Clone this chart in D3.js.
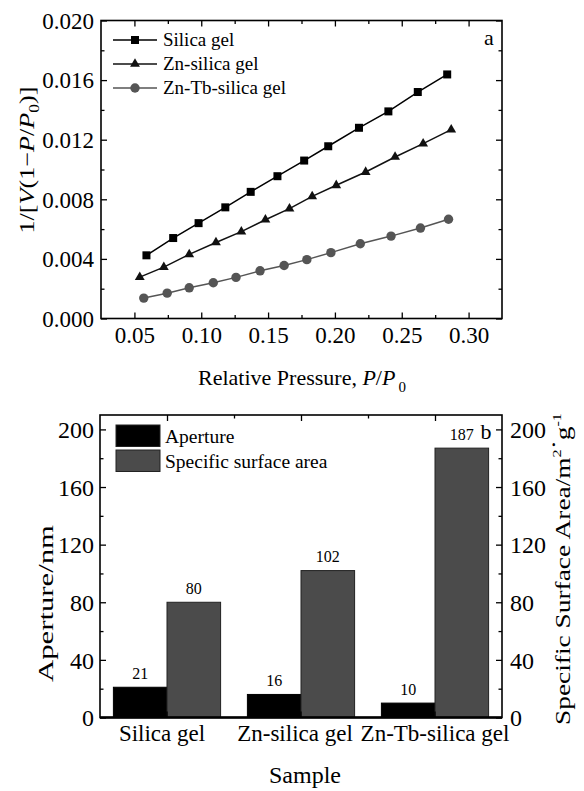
<!DOCTYPE html>
<html>
<head>
<meta charset="utf-8">
<script src="https://cdn.jsdelivr.net/npm/d3@7"></script>
<style>
  body { margin: 0; background: #fff; }
  svg { display: block; font-family: "Liberation Serif", "Times New Roman", serif; }
  .axis .domain { display: none; }
  .axis line { stroke: #000; stroke-width: 1.3; }
</style>
</head>
<body>
<svg id="chart" width="584" height="791"></svg>
<script>
// ---- panel a : BET plot ----
const seriesNames = ["Silica gel", "Zn-silica gel", "Zn-Tb-silica gel"];
const silicaP = [0.059, 0.079, 0.098, 0.118, 0.137, 0.157, 0.177, 0.195, 0.218, 0.240, 0.262, 0.284];
const silicaY = [0.00424, 0.0054, 0.0064, 0.00746, 0.0085, 0.00955, 0.0106, 0.01156, 0.0128, 0.0139, 0.0152, 0.01638];
const znP = [0.054, 0.072, 0.091, 0.111, 0.130, 0.148, 0.166, 0.183, 0.201, 0.223, 0.245, 0.266, 0.287];
const znY = [0.00278, 0.00345, 0.0043, 0.0051, 0.00583, 0.00663, 0.00737, 0.0082, 0.00894, 0.00983, 0.01084, 0.01174, 0.01268];
const znTbP = [0.057, 0.0745, 0.091, 0.109, 0.126, 0.144, 0.162, 0.179, 0.197, 0.219, 0.242, 0.264, 0.285];
const znTbY = [0.00137, 0.0017, 0.00206, 0.0024, 0.00276, 0.0032, 0.00356, 0.00395, 0.00442, 0.00502, 0.00553, 0.00607, 0.00666];
const xTicksA = [0.05, 0.10, 0.15, 0.20, 0.25, 0.30];
const xMinorA = [0.075, 0.125, 0.175, 0.225, 0.275];
const yTicksA = [0, 0.004, 0.008, 0.012, 0.016, 0.020];
const yMinorA = [0.002, 0.006, 0.010, 0.014, 0.018];

// ---- panel b : bars ----
const samples = ["Silica gel", "Zn-silica gel", "Zn-Tb-silica gel"];
const barSeries = ["Aperture", "Specific surface area"];
const aperture = [21, 16, 10];
const surfaceArea = [80, 102, 187];
const yTicksB = [0, 40, 80, 120, 160, 200];
const yMinorB = [20, 60, 100, 140, 180];

const svg = d3.select("#chart");

// small helper: major + minor inward ticks
function ticks(gen, pos, major, minor, fmt, pad, fontSize) {
    const g = svg.append("g").attr("class", "axis").attr("transform", pos);
    g.call(gen.tickValues(major).tickSize(-6).tickSizeOuter(0).tickPadding(pad).tickFormat(fmt));
    g.selectAll("text").attr("font-size", fontSize).attr("font-family", "Liberation Serif").attr("fill", "#000");
    if (minor) {
        const m = svg.append("g").attr("class", "axis").attr("transform", pos);
        m.call(gen.tickValues(minor).tickSize(-3.5).tickFormat(""));
    }
    return g;
}

// rotated titles in the original are drawn stretched along their length
function stretchTitle(t, cx, cy, target) {
    t.attr("transform", `translate(${cx},${cy}) rotate(-90)`);
    const len = t.node().getBoundingClientRect().height;
    t.attr("transform", `translate(${cx},${cy}) rotate(-90) scale(${target / len},1)`);
}

// ================= panel a =================
const a = {left: 101, right: 502, top: 20.5, bottom: 318.5};
const x = d3.scaleLinear().domain([0.025, 0.325]).range([a.left, a.right]);
const y = d3.scaleLinear().domain([0, 0.020]).range([a.bottom, a.top]);

ticks(d3.axisBottom(x), `translate(0,${a.bottom})`, xTicksA, xMinorA, d3.format(".2f"), 8.5, 23);
ticks(d3.axisTop(x), `translate(0,${a.top})`, xTicksA, xMinorA, "", 0, 0);
ticks(d3.axisLeft(y), `translate(${a.left},0)`, yTicksA, yMinorA, d3.format(".3f"), 7, 23)
    .selectAll("text").attr("dy", "0.34em");
ticks(d3.axisRight(y), `translate(${a.right},0)`, yTicksA, yMinorA, "", 0, 0);

svg.append("rect")
    .attr("x", a.left).attr("y", a.top)
    .attr("width", a.right - a.left).attr("height", a.bottom - a.top)
    .attr("fill", "none").attr("stroke", "#000").attr("stroke-width", 1.6);

const series = [
    {name: seriesNames[0], p: silicaP, v: silicaY, color: "#000", marker: "square"},
    {name: seriesNames[1], p: znP, v: znY, color: "#111", marker: "triangle"},
    {name: seriesNames[2], p: znTbP, v: znTbY, color: "#555", marker: "circle"}
];

const line = d3.line().x(d => x(d[0])).y(d => y(d[1]));

function marker(g, type, color) {
    if (type === "square") {
        g.append("rect").attr("x", -4).attr("y", -4).attr("width", 8).attr("height", 8).attr("fill", color);
    } else if (type === "triangle") {
        g.append("path").attr("d", d3.symbol().type(d3.symbolTriangle).size(42)()).attr("fill", color);
    } else {
        g.append("circle").attr("r", 4.7).attr("fill", color);
    }
}

series.forEach(s => {
    const pts = s.p.map((p, i) => [p, s.v[i]]);
    svg.append("path")
        .datum(pts)
        .attr("fill", "none")
        .attr("stroke", s.color)
        .attr("stroke-width", 1.5)
        .attr("d", line);
    svg.append("g").selectAll("g")
        .data(pts)
        .enter()
        .append("g")
        .attr("transform", d => `translate(${x(d[0])},${y(d[1])})`)
        .each(function() { marker(d3.select(this), s.marker, s.color); });
});

// legend a
series.forEach((s, i) => {
    const ly = 40 + i * 24;
    svg.append("line").attr("x1", 113).attr("x2", 157).attr("y1", ly).attr("y2", ly)
        .attr("stroke", s.color).attr("stroke-width", 1.5);
    marker(svg.append("g").attr("transform", `translate(135,${ly})`), s.marker, s.color);
    svg.append("text").attr("x", 163).attr("y", ly + 5.5).attr("font-size", 19).text(s.name);
});

svg.append("text").attr("x", 489).attr("y", 45).attr("font-size", 22).attr("text-anchor", "middle").text("a");

// axis titles a
const xt = svg.append("text").attr("x", 302).attr("y", 385).attr("font-size", 22).attr("text-anchor", "middle");
xt.append("tspan").text("Relative Pressure, ");
xt.append("tspan").attr("font-style", "italic").text("P");
xt.append("tspan").text("/");
xt.append("tspan").attr("font-style", "italic").text("P");
xt.append("tspan").attr("font-size", 15).attr("dx", 3).attr("dy", 7).text("0");

const yt = svg.append("text").attr("font-size", 21).attr("text-anchor", "middle");
yt.append("tspan").text("1/[");
yt.append("tspan").attr("font-style", "italic").text("V");
yt.append("tspan").text("(1\u2212");
yt.append("tspan").attr("font-style", "italic").text("P");
yt.append("tspan").text("/");
yt.append("tspan").attr("font-style", "italic").text("P");
yt.append("tspan").attr("font-size", 14).attr("dy", 5).text("0");
yt.append("tspan").attr("dy", -5).text(")]");
stretchTitle(yt, 34, 160, 147);

// ================= panel b =================
const b = {left: 100, right: 502, top: 415, bottom: 717.5};
const x0 = d3.scaleBand().domain(samples).range([b.left, b.right]).paddingInner(0.2).paddingOuter(0.1);
const x1 = d3.scaleBand().domain(barSeries).range([0, x0.bandwidth()]);
const xi = d3.scaleLinear().domain([-0.5, 2.5]).range([b.left, b.right]);
const yb = d3.scaleLinear().domain([0, 210]).range([b.bottom, b.top]);
const yb2 = d3.scaleLinear().domain([0, 210]).range([b.bottom, b.top]);

const barColor = {"Aperture": "#000", "Specific surface area": "#4b4b4b"};
const barData = samples.map((s, i) => ({sample: s, values: [
    {key: barSeries[0], v: aperture[i], scale: yb},
    {key: barSeries[1], v: surfaceArea[i], scale: yb2}
]}));

const groups = svg.append("g").selectAll("g")
    .data(barData)
    .enter()
    .append("g")
    .attr("transform", d => `translate(${x0(d.sample)},0)`);

groups.selectAll("rect")
    .data(d => d.values)
    .enter()
    .append("rect")
    .attr("x", d => x1(d.key))
    .attr("y", d => d.scale(d.v))
    .attr("width", x1.bandwidth())
    .attr("height", d => b.bottom - d.scale(d.v))
    .attr("fill", d => barColor[d.key])
    .attr("stroke", d => d.key === "Aperture" ? "#000" : "#222")
    .attr("stroke-width", 1);

groups.selectAll("text")
    .data(d => d.values)
    .enter()
    .append("text")
    .attr("x", d => x1(d.key) + x1.bandwidth() / 2)
    .attr("y", d => d.scale(d.v) - 8.5)
    .attr("text-anchor", "middle")
    .attr("font-size", 16)
    .text(d => d.v);

// axes b
const labelShift = [-5, -6, 0];
ticks(d3.axisBottom(x0), `translate(0,${b.bottom})`, samples, null, d => d, 7.5, 23)
    .selectAll("text").attr("dx", (d, i) => labelShift[i]);
ticks(d3.axisTop(xi), `translate(0,${b.top})`, [0, 1, 2], [0.5, 1.5], "", 0, 0);
ticks(d3.axisLeft(yb), `translate(${b.left},0)`, yTicksB, yMinorB, d3.format("d"), 6, 24)
    .selectAll("text").attr("dy", "0.34em");
ticks(d3.axisRight(yb2), `translate(${b.right},0)`, yTicksB, yMinorB, d3.format("d"), 8, 24)
    .selectAll("text").attr("dy", "0.34em");

svg.append("rect")
    .attr("x", b.left).attr("y", b.top)
    .attr("width", b.right - b.left).attr("height", b.bottom - b.top)
    .attr("fill", "none").attr("stroke", "#000").attr("stroke-width", 1.6);
svg.append("line").attr("x1", b.left).attr("x2", b.right).attr("y1", b.bottom).attr("y2", b.bottom)
    .attr("stroke", "#000").attr("stroke-width", 2.4);

// legend b
barSeries.forEach((k, i) => {
    svg.append("rect").attr("x", 116).attr("y", 425 + i * 25).attr("width", 44).attr("height", 21.5)
        .attr("fill", barColor[k]).attr("stroke", "#222").attr("stroke-width", 1);
    svg.append("text").attr("x", 165).attr("y", 443 + i * 25).attr("font-size", 19.5).text(k);
});

svg.append("text").attr("x", 486).attr("y", 439).attr("font-size", 22).attr("text-anchor", "middle").text("b");

svg.append("text").attr("x", 305).attr("y", 783).attr("font-size", 24).attr("text-anchor", "middle").text("Sample");

const lt = svg.append("text").attr("font-size", 21).attr("text-anchor", "middle").text("Aperture/nm");
stretchTitle(lt, 53, 603.5, 157);

const rt = svg.append("text").attr("font-size", 22).attr("text-anchor", "middle");
rt.append("tspan").text("Specific Surface Area/m");
rt.append("tspan").attr("font-size", 13).attr("dy", -9).text("2");
rt.append("tspan").text("\u00b7");
rt.append("tspan").attr("dy", 9).text("g");
rt.append("tspan").attr("font-size", 13).attr("dy", -9).text("-1");
stretchTitle(rt, 570, 569, 312);
</script>
</body>
</html>
